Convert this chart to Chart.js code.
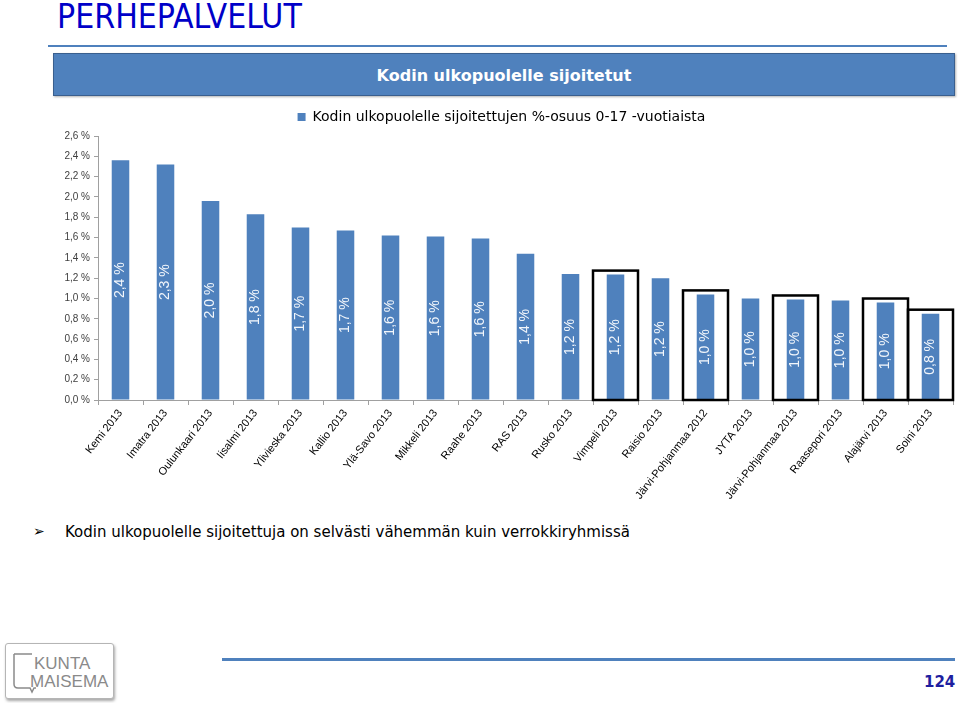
<!DOCTYPE html>
<html><head><meta charset="utf-8">
<script src="https://cdn.jsdelivr.net/npm/chart.js@4/dist/chart.umd.min.js"></script>
<style>
html,body{margin:0;padding:0;background:#fff;}
body{width:959px;height:703px;overflow:hidden;position:relative;font-family:'DejaVu Sans',sans-serif;}
#title{position:absolute;left:57px;top:0px;font-family:'DejaVu Sans Condensed','DejaVu Sans',sans-serif;font-stretch:condensed;font-size:33.5px;line-height:34px;color:#0000C8;white-space:nowrap;}
#rule{position:absolute;left:48px;top:45px;width:899px;height:2px;background:#4F81BD;}
#banner{position:absolute;left:53px;top:53px;width:902px;height:43px;background:#4F81BD;border:1px solid #3A5F8E;box-sizing:border-box;box-shadow:1px 1px 2px rgba(0,0,0,0.3);color:#fff;font-weight:bold;font-size:16px;line-height:43px;text-align:center;}
#wrap{position:absolute;left:50px;top:100px;width:909px;height:420px;}
#bullet{position:absolute;left:33px;top:523px;font-size:15px;line-height:18px;color:#000;white-space:nowrap;}
#bullet span.b{position:absolute;left:0;top:-1px;font-size:14px;}
#bullet span.t{position:absolute;left:32px;top:0;}
#footrule{position:absolute;left:222px;top:658px;width:733px;height:3px;background:#4F81BD;}
#page{position:absolute;left:924px;top:673px;font-size:15px;font-weight:bold;color:#1E1EA0;}
#logo{position:absolute;left:5px;top:643px;width:109px;height:56px;border:1px solid #b5b5b5;border-radius:3px;box-sizing:border-box;box-shadow:1px 2px 3px rgba(0,0,0,0.35);background:#fff;}
#logo svg{position:absolute;left:0;top:0;}
</style></head>
<body>
<div id="title">PERHEPALVELUT</div>
<div id="rule"></div>
<div id="banner">Kodin ulkopuolelle sijoitetut</div>
<div id="wrap"><canvas id="c" width="909" height="420"></canvas></div>
<div id="bullet"><span class="b">&#x27A2;</span><span class="t">Kodin ulkopuolelle sijoitettuja on selvästi vähemmän kuin verrokkiryhmissä</span></div>
<div id="logo"><svg width="109" height="56" viewBox="0 0 109 56">
<path d="M8 10 L8 40 Q8 44 12 44 L24 44 L26 48 L28 44 L30 44" fill="none" stroke="#8a8a8a" stroke-width="1.5"/>
<path d="M8 10 L26 10" fill="none" stroke="#8a8a8a" stroke-width="1.5"/>
<text x="28" y="25" font-family="'Liberation Sans Narrow','Liberation Sans',sans-serif" font-size="17" fill="#8a8a8a">KUNTA</text>
<text x="24" y="43" font-family="'Liberation Sans Narrow','Liberation Sans',sans-serif" font-size="17" fill="#8a8a8a">MAISEMA</text>
</svg></div>
<div id="footrule"></div>
<div id="page">124</div>
<script>
const categories = ["Kemi 2013","Imatra 2013","Oulunkaari 2013","Iisalmi 2013","Ylivieska 2013","Kallio 2013","Ylä-Savo 2013","Mikkeli 2013","Raahe 2013","RAS 2013","Rusko 2013","Vimpeli 2013","Raisio 2013","Järvi-Pohjanmaa 2012","JYTA 2013","Järvi-Pohjanmaa 2013","Raasepori 2013","Alajärvi 2013","Soini 2013"];
const values = [2.36,2.32,1.96,1.83,1.70,1.67,1.62,1.61,1.59,1.44,1.24,1.235,1.20,1.04,1.00,0.99,0.98,0.96,0.85];
const highlighted = ["Vimpeli 2013","Järvi-Pohjanmaa 2012","Järvi-Pohjanmaa 2013","Alajärvi 2013","Soini 2013"];
const seriesName = "Kodin ulkopuolelle sijoitettujen %-osuus 0-17 -vuotiaista";
const yTicks = [0,0.2,0.4,0.6,0.8,1.0,1.2,1.4,1.6,1.8,2.0,2.2,2.4,2.6];

const fmt = (v,d) => v.toFixed(d).replace('.', ',') + ' %';

const legendGap = {
  id: 'legendGap',
  beforeInit(chart) {
    const fit = chart.legend.fit;
    chart.legend.fit = function () { fit.call(this); this.height += 2; };
  }
};

const overlay = {
  id: 'overlay',
  afterDatasetsDraw(chart) {
    const {ctx, scales:{x, y}} = chart;
    const meta = chart.getDatasetMeta(0);
    ctx.save();
    ctx.fillStyle = '#F2F6FB';
    ctx.font = '14px "Liberation Sans", Arial, sans-serif';
    ctx.textAlign = 'center';
    ctx.textBaseline = 'middle';
    meta.data.forEach((bar, i) => {
      const top = y.getPixelForValue(values[i]);
      const base = y.getPixelForValue(0);
      ctx.save();
      ctx.translate(bar.x, (top + base) / 2);
      ctx.rotate(-Math.PI / 2);
      ctx.fillText(fmt(values[i], 1), 0, 0);
      ctx.restore();
    });
    const step = x.getPixelForValue(1) - x.getPixelForValue(0);
    ctx.strokeStyle = '#000';
    ctx.lineWidth = 2.5;
    highlighted.forEach(name => {
      const i = categories.indexOf(name);
      const cx = x.getPixelForValue(i);
      const top = y.getPixelForValue(values[i]) - 4;
      const base = y.getPixelForValue(0);
      ctx.strokeRect(cx - step / 2, top, step, base - top);
    });
    ctx.restore();
  }
};

new Chart(document.getElementById('c'), {
  type: 'bar',
  data: {
    labels: categories,
    datasets: [{
      label: seriesName,
      data: values,
      backgroundColor: '#4F81BD',
      borderWidth: 0,
      categoryPercentage: 1,
      barPercentage: 0.39
    }]
  },
  options: {
    responsive: false,
    animation: false,
    devicePixelRatio: 1,
    layout: { padding: { left: 0, right: 6, top: 1, bottom: 0 } },
    plugins: {
      legend: {
        display: true,
        position: 'top',
        labels: {
          boxWidth: 8, boxHeight: 8, padding: 9,
          color: '#000',
          font: { size: 14, family: "'DejaVu Sans', sans-serif" }
        }
      },
      tooltip: { enabled: false }
    },
    scales: {
      x: {
        grid: { display: true, drawOnChartArea: false, offset: true, tickLength: 5, color: '#A0A0A0' },
        border: { color: '#A0A0A0' },
        ticks: {
          autoSkip: false, minRotation: 52, maxRotation: 52,
          color: '#000', padding: 2,
          font: { size: 11, family: "'Liberation Sans', Arial, sans-serif" }
        },
        afterFit(s) { s.height = 120; }
      },
      y: {
        min: 0, max: 2.6,
        afterBuildTicks(s) { s.ticks = yTicks.map(v => ({ value: v })); },
        grid: { display: true, drawOnChartArea: false, tickLength: 4, color: '#A0A0A0' },
        border: { color: '#A0A0A0' },
        ticks: {
          color: '#404040', padding: 4,
          font: { size: 10, family: "'Liberation Sans', Arial, sans-serif" },
          callback: v => fmt(v, 1)
        },
        afterFit(s) { s.width = 48; }
      }
    }
  },
  plugins: [legendGap, overlay]
});
</script>
</body></html>
